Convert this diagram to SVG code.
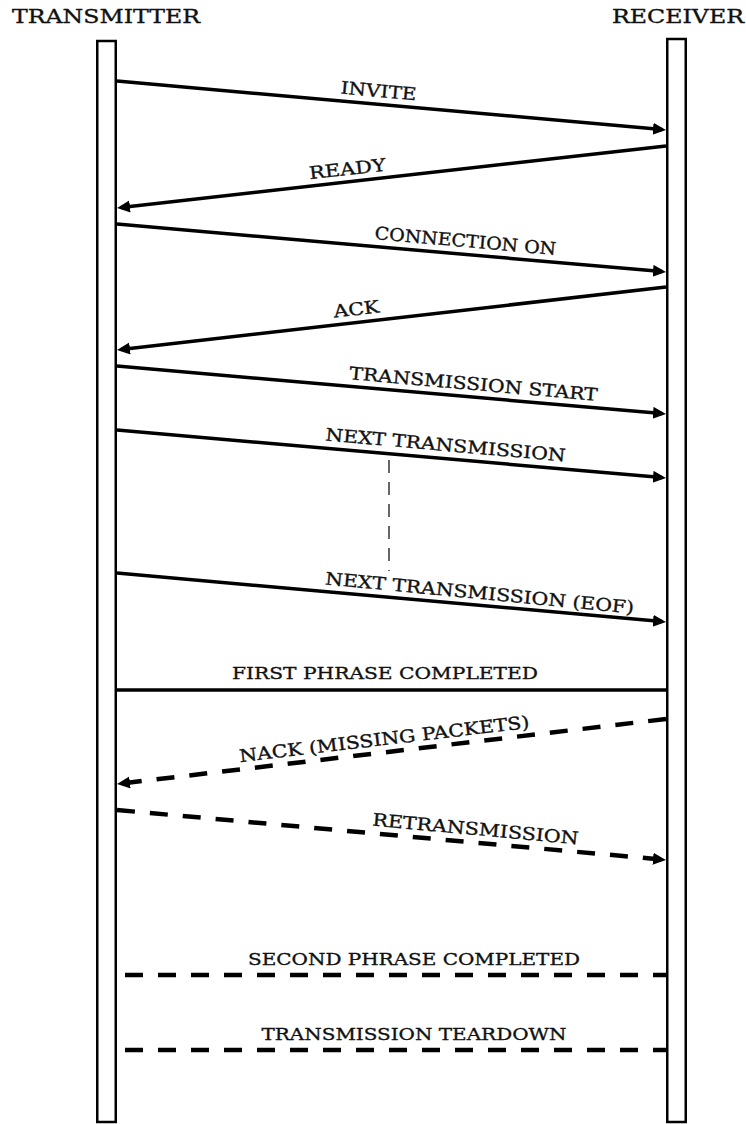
<svg xmlns="http://www.w3.org/2000/svg" width="746" height="1124" viewBox="0 0 746 1124">
<style>
text{font-family:"DejaVu Serif","Liberation Serif",serif;fill:#111;stroke:#111;stroke-width:0.35;}
.hdr{font-size:19px;}
.lbl{font-size:17.5px;text-anchor:middle;}
.life{fill:#fff;stroke:#000;stroke-width:2.5;}
.msg{stroke:#000;stroke-width:3.5;fill:none;}
.dash{stroke:#000;stroke-width:4.5;fill:none;stroke-dasharray:18 15;}
.guide{stroke:#666;stroke-width:2;fill:none;stroke-dasharray:13 9;}
</style>
<defs>
<marker id="ah" markerUnits="userSpaceOnUse" markerWidth="16" markerHeight="14" refX="9" refY="6" orient="auto">
<path d="M0,0 L13,6 L0,12 z" fill="#000"/>
</marker>
</defs>
<rect width="746" height="1124" fill="#fff"/>
<g id="transmitter">
<rect class="life" x="97.25" y="41" width="18.5" height="1081"/>
<text class="hdr" x="12" y="23" textLength="188" lengthAdjust="spacingAndGlyphs">TRANSMITTER</text>
</g>
<g id="receiver">
<rect class="life" x="667.25" y="39" width="18.5" height="1083"/>
<text class="hdr" x="612" y="23" textLength="132" lengthAdjust="spacingAndGlyphs">RECEIVER</text>
</g>
<g id="connectors">
<line class="msg" x1="117" y1="81" x2="662" y2="129.6" marker-end="url(#ah)"/>
<line class="msg" x1="666" y1="146" x2="121" y2="207.5" marker-end="url(#ah)"/>
<line class="msg" x1="117" y1="224" x2="662" y2="271.6" marker-end="url(#ah)"/>
<line class="msg" x1="666" y1="287" x2="121" y2="349.5" marker-end="url(#ah)"/>
<line class="msg" x1="117" y1="366" x2="662" y2="413.6" marker-end="url(#ah)"/>
<line class="msg" x1="117" y1="430" x2="662" y2="477.6" marker-end="url(#ah)"/>
<line class="guide" x1="389" y1="460" x2="389" y2="571"/>
<line class="msg" x1="117" y1="573" x2="662" y2="621.6" marker-end="url(#ah)"/>
<line class="msg" x1="116" y1="690" x2="667" y2="690"/>
<line class="dash" x1="666" y1="719" x2="121" y2="783.5" marker-end="url(#ah)"/>
<line class="dash" x1="117" y1="810" x2="662" y2="859.6" marker-end="url(#ah)"/>
<line class="dash" x1="125" y1="975" x2="666" y2="975"/>
<line class="dash" x1="125" y1="1050" x2="666" y2="1050"/>
</g>
<g id="labels">
<text class="lbl" x="378" y="97" transform="rotate(5.1 378 97)" textLength="76" lengthAdjust="spacingAndGlyphs">INVITE</text>
<text class="lbl" x="348" y="175" transform="rotate(-6.44 348 175)" textLength="77" lengthAdjust="spacingAndGlyphs">READY</text>
<text class="lbl" x="465" y="247" transform="rotate(5 465 247)" textLength="182" lengthAdjust="spacingAndGlyphs">CONNECTION ON</text>
<text class="lbl" x="357" y="315" transform="rotate(-6.55 357 315)" textLength="46" lengthAdjust="spacingAndGlyphs">ACK</text>
<text class="lbl" x="473" y="390" transform="rotate(5 473 390)" textLength="249" lengthAdjust="spacingAndGlyphs">TRANSMISSION START</text>
<text class="lbl" x="445" y="451" transform="rotate(5 445 451)" textLength="241" lengthAdjust="spacingAndGlyphs">NEXT TRANSMISSION</text>
<text class="lbl" x="479" y="599" transform="rotate(5.4 479 599)" textLength="310" lengthAdjust="spacingAndGlyphs">NEXT TRANSMISSION (EOF)</text>
<text class="lbl" x="385" y="679" textLength="306" lengthAdjust="spacingAndGlyphs">FIRST PHRASE COMPLETED</text>
<text class="lbl" x="385" y="745" transform="rotate(-6.75 385 745)" textLength="292" lengthAdjust="spacingAndGlyphs">NACK (MISSING PACKETS)</text>
<text class="lbl" x="475" y="835" transform="rotate(5.2 475 835)" textLength="207" lengthAdjust="spacingAndGlyphs">RETRANSMISSION</text>
<text class="lbl" x="414" y="965" textLength="332" lengthAdjust="spacingAndGlyphs">SECOND PHRASE COMPLETED</text>
<text class="lbl" x="414" y="1040" textLength="305" lengthAdjust="spacingAndGlyphs">TRANSMISSION TEARDOWN</text>
</g>
</svg>
